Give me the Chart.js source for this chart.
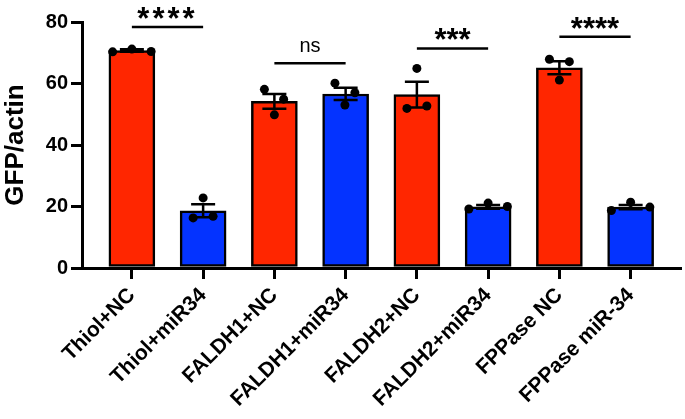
<!DOCTYPE html>
<html lang="en">
<head>
<meta charset="UTF-8">
<title>GFP/actin</title>
<script src="https://cdn.jsdelivr.net/npm/chart.js"></script>
<style>
  body { margin: 0; background: #fff; }
  #wrap { width: 685px; height: 419px; }
</style>
</head>
<body>
<div id="wrap"><canvas id="gfpChart" width="685" height="419"></canvas></div>
<script>
const groups = ['Thiol+NC', 'Thiol+miR34', 'FALDH1+NC', 'FALDH1+miR34', 'FALDH2+NC', 'FALDH2+miR34', 'FPPase NC', 'FPPase miR-34'];
const means = [70.7, 18.6, 54.2, 56.6, 56.4, 19.9, 65.1, 19.8];
const sems = [0.4, 2.1, 2.4, 2.0, 4.2, 0.6, 2.1, 0.7];
const replicates = [
  [70.3, 71.2, 70.4],
  [16.3, 22.8, 16.8],
  [58.1, 49.8, 54.9],
  [60.1, 53.0, 57.0],
  [51.9, 64.9, 52.7],
  [19.2, 21.1, 20.0],
  [67.9, 61.1, 67.1],
  [18.7, 21.4, 19.8]
];
// sideways spread of the three dots, in category units
const spread = [
  [-0.27, 0, 0.27],
  [-0.14, 0, 0.14],
  [-0.14, 0, 0.13],
  [-0.15, -0.01, 0.13],
  [-0.14, 0, 0.14],
  [-0.27, 0, 0.27],
  [-0.14, 0, 0.14],
  [-0.27, 0, 0.27]
];
const yTicks = [0, 20, 40, 60, 80];
const sigPairs = [[0, 1], [2, 3], [4, 5], [6, 7]];
const sigLabels = ['****', 'ns', '***', '****'];
const sigLevels = [78.4, 66.6, 71.4, 75.2];

const RED = '#ff2600';
const BLUE = '#0433ff';
const FONT = "'Liberation Sans', Arial, sans-serif";

const dots = [];
replicates.forEach((vals, i) => {
  vals.forEach((v, j) => dots.push({ x: i + spread[i][j], y: v }));
});

// SEM error bars, drawn right after the bars so the dots sit on top
const errorBars = {
  id: 'errorBars',
  afterDatasetDraw(chart, args) {
    if (args.index !== 0) return;
    const { ctx, scales: { x, y } } = chart;
    ctx.save();
    ctx.strokeStyle = '#000';
    ctx.lineWidth = 2.5;
    means.forEach((m, i) => {
      const cx = x.getPixelForValue(i);
      const top = y.getPixelForValue(m + sems[i]);
      const bot = y.getPixelForValue(m - sems[i]);
      ctx.beginPath();
      ctx.moveTo(cx, top); ctx.lineTo(cx, bot);
      ctx.moveTo(cx - 12, top); ctx.lineTo(cx + 12, top);
      ctx.moveTo(cx - 12, bot); ctx.lineTo(cx + 12, bot);
      ctx.stroke();
    });
    ctx.restore();
  }
};

// significance brackets
const brackets = {
  id: 'brackets',
  afterDraw(chart) {
    const { ctx, scales: { x, y } } = chart;
    ctx.save();
    ctx.strokeStyle = '#000';
    ctx.fillStyle = '#000';
    ctx.lineWidth = 2.5;
    ctx.textAlign = 'center';
    sigPairs.forEach(([a, b], k) => {
      const x1 = x.getPixelForValue(a);
      const x2 = x.getPixelForValue(b);
      const ly = y.getPixelForValue(sigLevels[k]);
      ctx.beginPath();
      ctx.moveTo(x1, ly); ctx.lineTo(x2, ly);
      ctx.stroke();
      if (sigLabels[k] === 'ns') {
        ctx.font = '20px ' + FONT;
        ctx.textBaseline = 'alphabetic';
        ctx.fillText('ns', (x1 + x2) / 2, ly - 11);
      } else {
        ctx.font = 'bold 31px ' + FONT;
        ctx.textBaseline = 'alphabetic';
        ctx.letterSpacing = k === 0 ? '3px' : '0px';
        ctx.fillText(sigLabels[k], (x1 + x2) / 2, ly + 2);
        ctx.letterSpacing = '0px';
      }
    });
    ctx.restore();
  }
};

new Chart(document.getElementById('gfpChart'), {
  type: 'bar',
  data: {
    datasets: [
      {
        type: 'bar',
        order: 2,
        data: means.map((m, i) => ({ x: i, y: m })),
        backgroundColor: groups.map((g, i) => i % 2 === 0 ? RED : BLUE),
        borderColor: '#000',
        borderWidth: 2.5,
        borderSkipped: false,
        barThickness: 46
      },
      {
        type: 'scatter',
        order: 1,
        data: dots,
        pointRadius: 4.5,
        pointBackgroundColor: '#000',
        pointBorderWidth: 0
      }
    ]
  },
  options: {
    responsive: false,
    animation: false,
    devicePixelRatio: 1,
    layout: { padding: { top: 22, right: 3, bottom: 0, left: 0 } },
    plugins: {
      legend: { display: false },
      tooltip: { enabled: false }
    },
    scales: {
      x: {
        type: 'linear',
        offset: false,
        min: -0.7,
        max: 7.7,
        afterBuildTicks: s => { s.ticks = groups.map((g, i) => ({ value: i })); },
        afterFit: s => { s.height = 151; },
        border: { display: true, color: '#000', width: 3 },
        grid: { display: true, offset: false, drawOnChartArea: false, drawTicks: true, tickLength: 11, color: '#000', lineWidth: 3 },
        ticks: {
          autoSkip: false,
          maxRotation: 45,
          minRotation: 45,
          padding: 4,
          color: '#000',
          font: { family: FONT, size: 21, weight: 'bold' },
          callback: v => groups[v]
        }
      },
      y: {
        min: 0,
        max: 80,
        afterBuildTicks: s => { s.ticks = yTicks.map(v => ({ value: v })); },
        afterFit: s => { s.width = 82; },
        border: { display: true, color: '#000', width: 3 },
        grid: { display: true, drawOnChartArea: false, drawTicks: true, tickLength: 11, color: '#000', lineWidth: 3 },
        ticks: {
          padding: 3,
          color: '#000',
          font: { family: FONT, size: 20, weight: 'bold' }
        },
        title: {
          display: true,
          text: 'GFP/actin',
          color: '#000',
          font: { family: FONT, size: 26, weight: 'bold' },
          padding: { top: 0, bottom: 0 }
        }
      }
    }
  },
  plugins: [errorBars, brackets]
});
</script>
</body>
</html>
